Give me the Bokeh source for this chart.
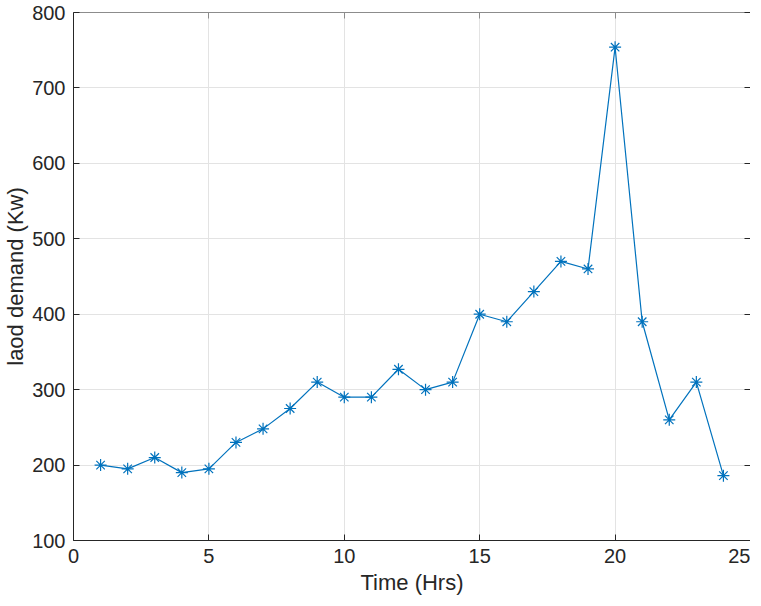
from bokeh.plotting import figure
from bokeh.models import LinearAxis, Range1d, FixedTicker
from bokeh.embed import file_html
from bokeh.resources import INLINE

hours = [1, 2, 3, 4, 5, 6, 7, 8, 9, 10, 11, 12, 13, 14, 15, 16, 17, 18, 19, 20, 21, 22, 23, 24]
demand = [200, 195, 210, 190, 195, 230, 248, 275, 310, 290, 290, 327, 300, 310,
          400, 390, 430, 470, 460, 754, 390, 260, 310, 186]
x_ticks = [0, 5, 10, 15, 20, 25]
y_ticks = [100, 200, 300, 400, 500, 600, 700, 800]

FONT = "Liberation Sans"
TXT = "#262626"
BLUE = "#0072BD"

p = figure(width=750, height=597, output_backend="svg", toolbar_location=None,
           x_range=Range1d(0, 25), y_range=Range1d(100, 800),
           min_border_left=60, min_border_right=0, min_border_top=12, min_border_bottom=50)
p.outline_line_color = None
p.background_fill_color = "white"

p.line(hours, demand, line_color=BLUE, line_width=1.2)
p.scatter(hours, demand, marker="asterisk", size=12, line_color=BLUE, line_width=1.2)

for ax in (p.xaxis[0], p.yaxis[0]):
    ax.axis_line_color = TXT
    ax.major_tick_line_color = TXT
    ax.major_tick_in = 6
    ax.major_tick_out = 0
    ax.minor_tick_line_color = None
    ax.major_label_text_font = FONT
    ax.major_label_text_font_size = "20px"
    ax.major_label_text_color = TXT
    ax.axis_label_text_font = FONT
    ax.axis_label_text_font_size = "22px"
    ax.axis_label_text_color = TXT
    ax.axis_label_text_font_style = "normal"

p.xaxis[0].ticker = FixedTicker(ticks=x_ticks)
p.yaxis[0].ticker = FixedTicker(ticks=y_ticks)
p.xaxis[0].axis_label = "Time (Hrs)"
p.yaxis[0].axis_label = "laod demand (Kw)"
p.xaxis[0].major_label_standoff = 8
p.yaxis[0].major_label_standoff = 8
p.xaxis[0].axis_label_standoff = 4
p.yaxis[0].axis_label_standoff = 1

top = LinearAxis(ticker=FixedTicker(ticks=x_ticks), axis_line_color="#8c8c8c",
                 major_tick_line_color="#8c8c8c", major_tick_in=6, major_tick_out=0,
                 minor_tick_line_color=None, major_label_text_font_size="0px",
                 major_label_text_color=None, major_label_standoff=0)
right = LinearAxis(ticker=FixedTicker(ticks=y_ticks), axis_line_color=TXT,
                   major_tick_line_color=TXT, major_tick_in=6, major_tick_out=0,
                   minor_tick_line_color=None, major_label_text_font_size="0px",
                   major_label_text_color=None, major_label_standoff=0)
p.add_layout(top, "above")
p.add_layout(right, "right")

p.xgrid.ticker = FixedTicker(ticks=x_ticks)
p.ygrid.ticker = FixedTicker(ticks=y_ticks)
p.grid.grid_line_color = "#e3e3e3"
p.grid.grid_line_width = 1

open("out.html", "w").write(file_html(p, INLINE))
